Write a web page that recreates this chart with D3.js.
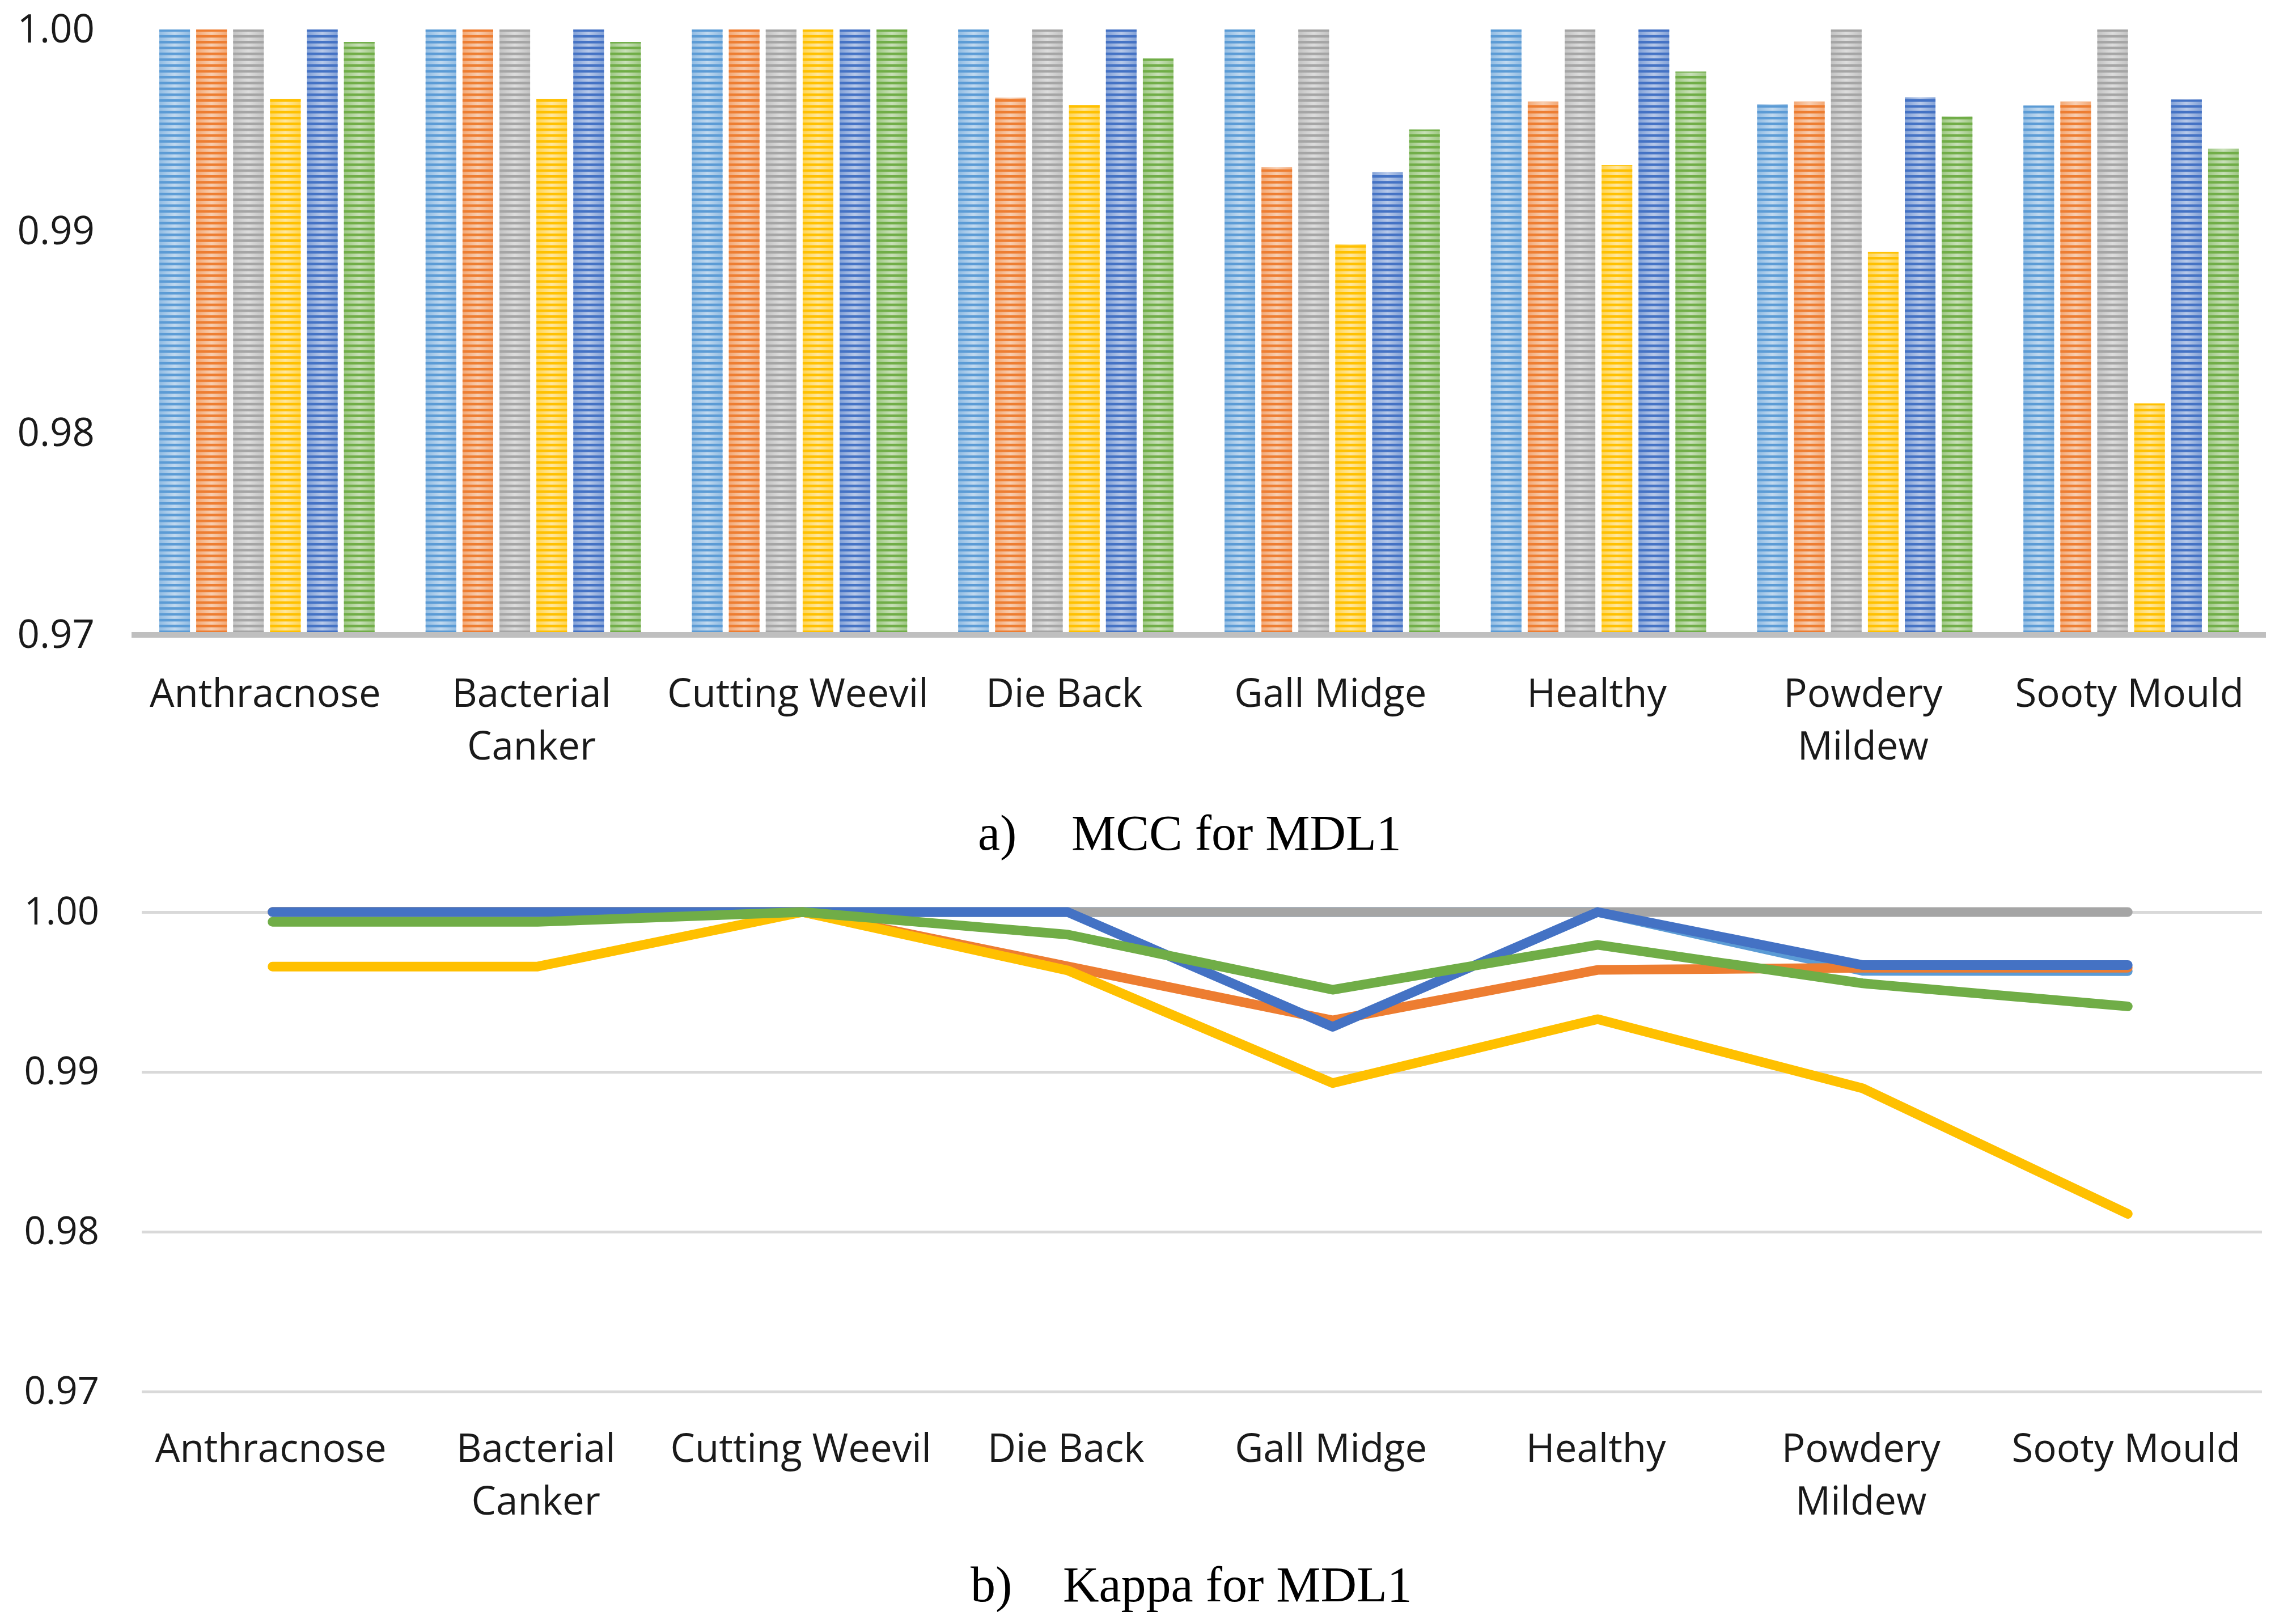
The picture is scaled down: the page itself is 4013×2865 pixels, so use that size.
<!DOCTYPE html>
<html>
<head>
<meta charset="utf-8">
<title>MCC and Kappa for MDL1</title>
<style>
  body { margin: 0; background: #fff; }
  svg { display: block; }
</style>
</head>
<body>
<script src="https://d3js.org/d3.v7.min.js"></script>
<script>
// categories and tick labels
var categories = ["Anthracnose", "Bacterial Canker", "Cutting Weevil", "Die Back",
                  "Gall Midge", "Healthy", "Powdery Mildew", "Sooty Mould"];
var tickLines = [["Anthracnose"], ["Bacterial", "Canker"], ["Cutting Weevil"], ["Die Back"],
                 ["Gall Midge"], ["Healthy"], ["Powdery", "Mildew"], ["Sooty Mould"]];
var yTicks = [0.97, 0.98, 0.99, 1.00];
var seriesNames = ["Series 1", "Series 2", "Series 3", "Series 4", "Series 5", "Series 6"];

// a) MCC values, one array per series
var mcc1 = [1, 1, 1, 1, 1, 1, 0.99629, 0.99623];
var mcc2 = [1, 1, 1, 0.99662, 0.99317, 0.99642, 0.99642, 0.99642];
var mcc3 = [1, 1, 1, 1, 1, 1, 1, 1];
var mcc4 = [0.99655, 0.99655, 1, 0.99626, 0.98935, 0.99328, 0.98897, 0.98147];
var mcc5 = [1, 1, 1, 1, 0.99293, 1, 0.99664, 0.99653];
var mcc6 = [0.99938, 0.99938, 1, 0.99856, 0.99504, 0.99791, 0.99569, 0.99409];

// b) Kappa values
var kap1 = [1, 1, 1, 1, 1, 1, 0.99632, 0.99630];
var kap2 = [1, 1, 1, 0.99660, 0.99322, 0.99638, 0.99652, 0.99652];
var kap3 = [1, 1, 1, 1, 1, 1, 1, 1];
var kap4 = [0.99659, 0.99659, 1, 0.99635, 0.98930, 0.99330, 0.98897, 0.98112];
var kap5 = [1, 1, 1, 1, 0.99282, 1, 0.99668, 0.99668];
var kap6 = [0.99939, 0.99939, 1, 0.99859, 0.99514, 0.99795, 0.99554, 0.99410];

var mcc = [mcc1, mcc2, mcc3, mcc4, mcc5, mcc6];
var kappa = [kap1, kap2, kap3, kap4, kap5, kap6];

var colors = ["#5B9BD5", "#ED7D31", "#A5A5A5", "#FFC000", "#4472C4", "#70AD47"];

var W = 4013, H = 2865;
var labelFont = "'Open Sans', 'Noto Sans', sans-serif";
var captionFont = "'Liberation Serif', 'Times New Roman', serif";

var svg = d3.select("body").append("svg")
    .attr("width", W)
    .attr("height", H);

var defs = svg.append("defs");

// striped fill for the bars: horizontal gradient underneath, solid stripes on top
colors.forEach(function(c, i) {
    var light = d3.interpolateRgb(c, "#ffffff")(0.62);
    var mid = d3.interpolateRgb(c, "#ffffff")(0.33);
    var g = defs.append("linearGradient")
        .attr("id", "grad" + i)
        .attr("x1", 0).attr("x2", 1).attr("y1", 0).attr("y2", 0);
    g.append("stop").attr("offset", "0%").attr("stop-color", mid);
    g.append("stop").attr("offset", "50%").attr("stop-color", light);
    g.append("stop").attr("offset", "100%").attr("stop-color", mid);

    var p = defs.append("pattern")
        .attr("id", "stripe" + i)
        .attr("patternUnits", "userSpaceOnUse")
        .attr("width", 20)
        .attr("height", 10.3);
    p.append("rect")
        .attr("width", 20)
        .attr("height", 4.5)
        .attr("fill", c);
});

// ---------- a) bar chart ----------
var x0 = d3.scaleBand()
    .domain(categories)
    .range([236, 3994]);

var x1 = d3.scaleBand()
    .domain(seriesNames)
    .range([45, x0.bandwidth() - 45])
    .paddingInner(0.17);

var yTop = d3.scaleLinear()
    .domain([0.97, 1.0])
    .range([1120, 52]);

var barRows = [];
categories.forEach(function(cat, ci) {
    seriesNames.forEach(function(s, si) {
        barRows.push({cat: cat, s: s, si: si, v: mcc[si][ci]});
    });
});

var bars = svg.append("g").selectAll("g")
    .data(barRows)
    .enter()
    .append("g")
    .attr("transform", function(d) {
        return "translate(" + (x0(d.cat) + x1(d.s)) + ",0)";
    });

bars.append("rect")
    .attr("y", function(d) { return yTop(d.v); })
    .attr("width", x1.bandwidth())
    .attr("height", function(d) { return yTop(0.97) - yTop(d.v); })
    .attr("fill", function(d) { return "url(#grad" + d.si + ")"; });

bars.append("rect")
    .attr("y", function(d) { return yTop(d.v); })
    .attr("width", x1.bandwidth())
    .attr("height", function(d) { return yTop(0.97) - yTop(d.v); })
    .attr("fill", function(d) { return "url(#stripe" + d.si + ")"; });

// base line
svg.append("line")
    .attr("x1", 232).attr("x2", 3997)
    .attr("y1", yTop(0.97)).attr("y2", yTop(0.97))
    .attr("stroke", "#BFBFBF")
    .attr("stroke-width", 10);

var yAxisTop = svg.append("g")
    .attr("transform", "translate(236,0)")
    .call(d3.axisLeft(yTop).tickValues(yTicks).tickFormat(d3.format(".2f")).tickSize(0).tickPadding(69));
yAxisTop.select(".domain").remove();
yAxisTop.selectAll("text")
    .attr("font-family", labelFont)
    .attr("font-size", 69)
    .attr("fill", "#1a1a1a");

svg.append("g").selectAll("text")
    .data(categories)
    .enter()
    .append("text")
    .attr("x", function(d) { return x0(d) + x0.bandwidth() / 2 - 3; })
    .attr("y", 1247)
    .attr("text-anchor", "middle")
    .attr("font-family", labelFont)
    .attr("font-size", 69)
    .attr("fill", "#1a1a1a")
    .selectAll("tspan")
    .data(function(d, i) { return tickLines[i]; })
    .enter()
    .append("tspan")
    .attr("x", function() { var t = d3.select(this.parentNode); return t.attr("x"); })
    .attr("dy", function(d, i) { return i === 0 ? 0 : 93; })
    .text(function(d) { return d; });

svg.append("text")
    .attr("x", 1725).attr("y", 1499)
    .attr("font-family", captionFont).attr("font-size", 88).attr("fill", "#000")
    .text("a)");
svg.append("text")
    .attr("x", 1890).attr("y", 1499)
    .attr("font-family", captionFont).attr("font-size", 88).attr("fill", "#000")
    .text("MCC for MDL1");

// ---------- b) line chart ----------
var xB = d3.scaleBand()
    .domain(categories)
    .range([247, 3987]);

var yBot = d3.scaleLinear()
    .domain([0.97, 1.0])
    .range([2455, 1609]);

var yAxisBot = svg.append("g")
    .attr("transform", "translate(250,0)")
    .call(d3.axisLeft(yBot).tickValues(yTicks).tickFormat(d3.format(".2f"))
        .tickSize(-(3990 - 250)).tickPadding(75));
yAxisBot.select(".domain").remove();
yAxisBot.selectAll("line")
    .attr("stroke", "#D9D9D9")
    .attr("stroke-width", 5);
yAxisBot.selectAll("text")
    .attr("font-family", labelFont)
    .attr("font-size", 67)
    .attr("fill", "#1a1a1a");

var line = d3.line()
    .x(function(d, i) { return xB(categories[i]) + xB.bandwidth() / 2; })
    .y(function(d) { return yBot(d); });

svg.append("g").selectAll("path")
    .data(kappa)
    .enter()
    .append("path")
    .attr("d", line)
    .attr("fill", "none")
    .attr("stroke", function(d, i) { return colors[i]; })
    .attr("stroke-width", 17)
    .attr("stroke-linejoin", "round")
    .attr("stroke-linecap", "round");

svg.append("g").selectAll("text")
    .data(categories)
    .enter()
    .append("text")
    .attr("x", function(d) { return xB(d) + xB.bandwidth() / 2 - 3; })
    .attr("y", 2579)
    .attr("text-anchor", "middle")
    .attr("font-family", labelFont)
    .attr("font-size", 69)
    .attr("fill", "#1a1a1a")
    .selectAll("tspan")
    .data(function(d, i) { return tickLines[i]; })
    .enter()
    .append("tspan")
    .attr("x", function() { var t = d3.select(this.parentNode); return t.attr("x"); })
    .attr("dy", function(d, i) { return i === 0 ? 0 : 93; })
    .text(function(d) { return d; });

svg.append("text")
    .attr("x", 1712).attr("y", 2825)
    .attr("font-family", captionFont).attr("font-size", 88).attr("fill", "#000")
    .text("b)");
svg.append("text")
    .attr("x", 1875).attr("y", 2825)
    .attr("font-family", captionFont).attr("font-size", 88).attr("fill", "#000")
    .text("Kappa for MDL1");
</script>
</body>
</html>
